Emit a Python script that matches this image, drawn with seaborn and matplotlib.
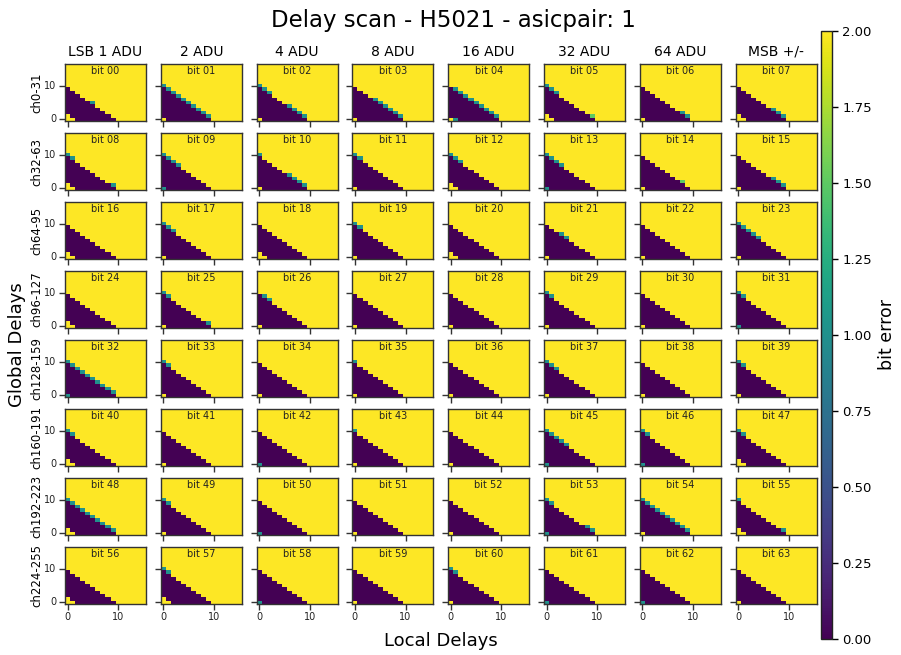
import numpy as np
import matplotlib
matplotlib.use("Agg")
import matplotlib.pyplot as plt
import seaborn as sns

# ---- scan dimensions -------------------------------------------------------
n_global = 17   # global delay settings 0..16
n_local = 16    # local delay settings 0..15

bit_weights = ["LSB 1 ADU", "2 ADU", "4 ADU", "8 ADU",
               "16 ADU", "32 ADU", "64 ADU", "MSB +/-"]
channel_groups = ["ch0-31", "ch32-63", "ch64-95", "ch96-127",
                  "ch128-159", "ch160-191", "ch192-223", "ch224-255"]

# local+global delay sum at which each bit starts to fail
edge_sum = [
    10, 10, 10, 10, 10, 10, 10, 10,
    10, 10, 10, 10, 10, 10, 10, 10,
    10, 10, 10, 10, 10, 10, 10, 10,
    10, 10, 10, 10, 10, 10, 10, 10,
    10, 10, 10, 10, 10, 10, 10, 10,
    10, 10, 10, 10, 10, 10, 10, 10,
    10, 10, 10, 10, 10, 10, 10, 10,
    10, 10, 10, 10, 10, 10, 10, 10,
]

# error level along that edge, local delay 0..edge_sum (code = 2 * error)
edge_codes = [
    "44444244444", "22222222224", "22244422224", "44442222224",
    "42222222224", "22244444434", "44444444224", "44444442224",
    "22444444424", "22224444444", "24444422224", "22444444444",
    "22244444444", "22224444444", "44444444344", "44444442224",
    "44444444444", "22244444444", "44444444444", "22444444444",
    "44444444444", "44422444444", "44444444444", "22222444444",
    "44444444444", "22444444424", "42244444444", "44444444444",
    "44444444444", "22444444444", "44444444444", "22444444444",
    "22222222224", "22444444444", "44444444444", "24444444444",
    "44444444444", "22244444444", "44444444444", "22444444444",
    "22444444444", "44444444444", "44444444444", "24444444444",
    "44444444444", "22222444444", "22444444444", "22444444444",
    "22222222224", "22444444444", "44444444444", "44444444444",
    "44444444444", "22444444224", "22222222224", "24444444424",
    "44444444444", "22444444444", "44444444444", "44444444444",
    "22444444444", "44444444444", "44444444444", "44444444444",
]

# error level of cells (0,0), (1,0), (0,1) at the smallest delays
corner_codes = [
    "444", "400", "400", "400", "420", "444", "400", "444",
    "444", "200", "400", "400", "444", "200", "400", "400",
    "444", "400", "444", "400", "444", "400", "400", "400",
    "444", "400", "400", "400", "400", "400", "400", "200",
    "200", "400", "400", "400", "400", "400", "400", "400",
    "444", "400", "200", "400", "400", "200", "200", "444",
    "444", "400", "200", "400", "400", "200", "400", "444",
    "444", "444", "200", "400", "400", "200", "200", "400",
]


def delay_map(total, edge, corner):
    g, l = np.mgrid[0:n_global, 0:n_local]
    m = np.full((n_global, n_local), 2.0)
    m[g + l < total] = 0.0
    for x, c in enumerate(edge):
        y = total - x
        if 0 <= y < n_global and x < n_local:
            m[y, x] = int(c) / 2
    for (x, y), c in zip([(0, 0), (1, 0), (0, 1)], corner):
        m[y, x] = int(c) / 2
    return m


# ---- figure layout (pixels at dpi 100) ------------------------------------
W, H = 901, 655
fig = plt.figure(figsize=(W / 100, H / 100), dpi=100)

x0, dx, pw = 65, 95.8, 81
y0, dy, ph = 64, 69, 57

cax = fig.add_axes([821 / W, 1 - 639 / H, 11 / W, 608 / H])

for b in range(64):
    r, c = divmod(b, 8)
    left = x0 + c * dx
    top = y0 + r * dy
    ax = fig.add_axes([left / W, 1 - (top + ph) / H, pw / W, ph / H])
    data = delay_map(edge_sum[b], edge_codes[b], corner_codes[b])
    sns.heatmap(data, ax=ax, cmap="viridis", vmin=0, vmax=2,
                cbar=(b == 0), cbar_ax=cax if b == 0 else None)
    ax.set_ylim(0, n_global)
    ax.set_xlim(0, n_local)
    for s in ax.spines.values():
        s.set_visible(True)
        s.set_color("#333333")
        s.set_linewidth(1.0)
    ax.set_xticks([0.5, 10.5])
    ax.set_yticks([0.5, 10.5])
    ax.tick_params(length=4, width=1, color="#333333", labelsize=7,
                   pad=2, labelcolor="#222222")
    ax.set_xticklabels(["0", "10"] if r == 7 else ["", ""], rotation=0)
    ax.set_yticklabels(["0", "10"] if c == 0 else ["", ""], rotation=0)
    ax.text(0.5, 0.96, f"bit {b:02d}", transform=ax.transAxes,
            ha="center", va="top", fontsize=7, color="#222222")
    if r == 0:
        ax.set_title(bit_weights[c], fontsize=10, pad=6)
    if c == 0:
        ax.set_ylabel(channel_groups[r], fontsize=8.5, labelpad=1)

# colorbar
cbar = fig.axes[1].collections[0].colorbar
cbar.set_ticks(np.arange(0, 2.01, 0.25))
cbar.ax.set_yticklabels([f"{v:.2f}" for v in np.arange(0, 2.01, 0.25)])
cbar.ax.tick_params(labelsize=9.5, length=4, width=1)
cbar.outline.set_visible(True)
cbar.outline.set_linewidth(1.0)
cbar.outline.set_edgecolor("#222222")
cbar.set_label("bit error", fontsize=12.5, labelpad=4)

fig.text(453 / W, 1 - 20 / H, "Delay scan - H5021 - asicpair: 1",
         ha="center", va="center", fontsize=16.5)
fig.text(441 / W, 1 - 641 / H, "Local Delays", ha="center", va="center",
         fontsize=13)
fig.text(17 / W, 1 - 345 / H, "Global Delays", ha="center", va="center",
         rotation=90, fontsize=13)

fig.savefig("out.png", dpi=100)
